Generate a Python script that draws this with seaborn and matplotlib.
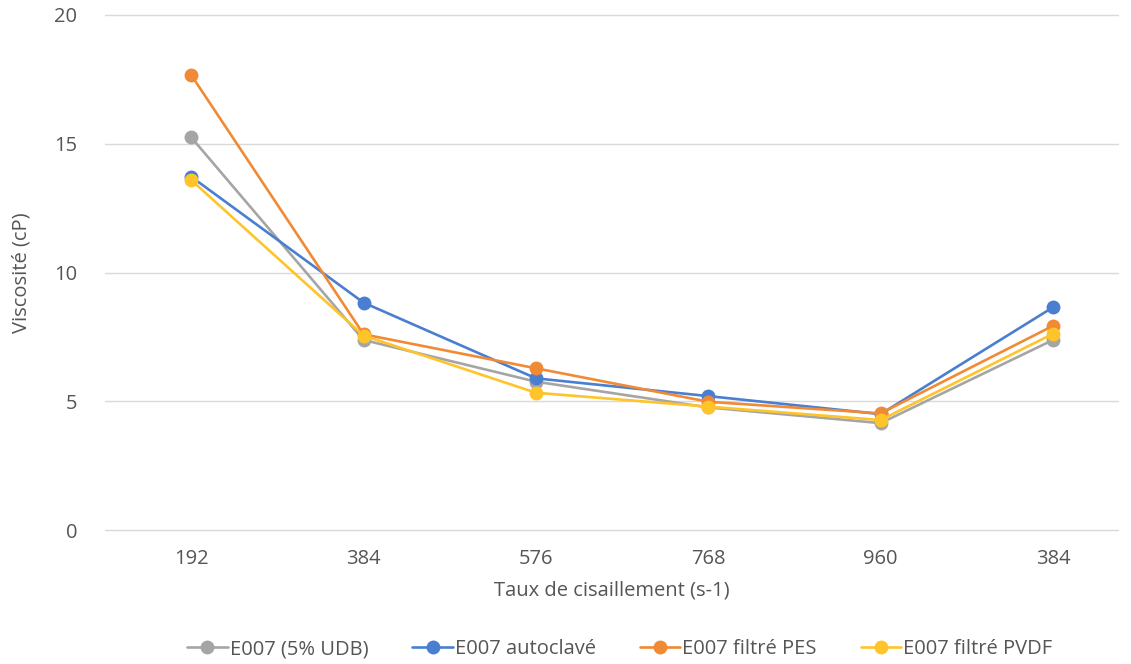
import matplotlib
matplotlib.use("Agg")
import matplotlib.pyplot as plt
import seaborn as sns
import pandas as pd
import numpy as np

categories = ["192", "384", "576", "768", "960", "384"]
series_names = ["E007 (5% UDB)", "E007 autoclavé", "E007 filtré PES", "E007 filtré PVDF"]
udb = [15.25, 7.38, 5.76, 4.76, 4.15, 7.38]
autoclave = [13.72, 8.83, 5.89, 5.2, 4.5, 8.65]
pes = [17.67, 7.6, 6.28, 4.98, 4.53, 7.93]
pvdf = [13.59, 7.55, 5.33, 4.79, 4.27, 7.62]
colors = ["#A5A5A5", "#4A7ED0", "#F08A35", "#FFC42A"]

rows = []
for name, vals in zip(series_names, [udb, autoclave, pes, pvdf]):
    for i, v in enumerate(vals):
        rows.append({"pos": i, "val": v, "series": name})
df = pd.DataFrame(rows)

sns.set_theme(style="white")
plt.rcParams['font.family'] = ['Open Sans', 'DejaVu Sans']

FS = 14.5
TC = "#555555"

fig = plt.figure(figsize=(11.31, 6.64), dpi=100)
ax = fig.add_axes([105/1131, 1 - 530/664, (1118 - 105)/1131, 515/664])

sns.lineplot(data=df, x="pos", y="val", hue="series", hue_order=series_names,
             palette=colors, marker="o", markersize=10, markeredgewidth=0,
             linewidth=1.9, ax=ax, legend=True, zorder=3)

ax.set_xlim(-0.5, 5 + (1118 - 1053) / 172.4)
ax.set_ylim(0, 20)
ax.set_yticks([0, 5, 10, 15, 20])
ax.set_xticks(range(len(categories)))
ax.set_xticklabels(categories)
ax.yaxis.grid(True, color="#D9D9D9", linewidth=1)
for gl in ax.get_ygridlines():
    gl.set_clip_on(False)
ax.set_axisbelow(True)
for s in ax.spines.values():
    s.set_visible(False)
ax.tick_params(axis="both", length=0, labelsize=FS, colors=TC)
ax.tick_params(axis="x", pad=14)
ax.tick_params(axis="y", pad=20)
ax.set_xlabel("Taux de cisaillement (s-1)", fontsize=FS, color=TC, labelpad=8)
ax.set_ylabel("Viscosité (cP)", fontsize=FS, color=TC, labelpad=16)

handles, labels = ax.get_legend_handles_labels()
ax.legend(handles, labels, loc="center", bbox_to_anchor=(620/1131, 1 - 649/664),
          bbox_transform=fig.transFigure, ncol=4, frameon=False, fontsize=FS,
          handlelength=2.0, handletextpad=0.1, columnspacing=2.2, labelcolor=TC)

fig.savefig("out.png", dpi=100)
